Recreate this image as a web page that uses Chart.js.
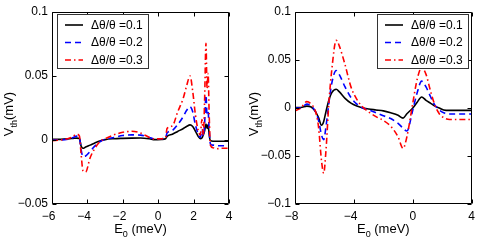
<!DOCTYPE html>
<html>
<head>
<meta charset="utf-8">
<script src="https://cdn.jsdelivr.net/npm/chart.js@4.4.1/dist/chart.umd.min.js"></script>
<style>
  html, body { margin: 0; padding: 0; background: #fff; }
  #wrap { position: relative; width: 480px; height: 245px; }
  .panel { position: absolute; top: 0; width: 240px; height: 245px; }
</style>
</head>
<body>
<div id="wrap">
  <div class="panel" style="left:0"><canvas id="c1" width="240" height="245"></canvas></div>
  <div class="panel" style="left:240px"><canvas id="c2" width="240" height="245"></canvas></div>
</div>
<script>
// ---------- data ----------
const seriesLabels = ['\u0394\u03b8/\u03b8 =0.1', '\u0394\u03b8/\u03b8 =0.2', '\u0394\u03b8/\u03b8 =0.3'];

// left panel
const leftE = [-6, -5.5, -5, -4.8, -4.6, -4.45, -4.35, -4.25, -4.1, -3.85, -3.6, -3.3, -3.0, -2.5, -2.0, -1.5, -1.0, -0.5, -0.2, 0.2, 0.42, 0.5, 0.8, 1.1, 1.4, 1.6, 1.8, 1.95, 2.1, 2.25, 2.38, 2.47, 2.55, 2.62, 2.7, 2.76, 2.82, 2.88, 2.95, 3.1, 3.3, 3.6, 4.0];
const leftV1 = [0.0005, 0.0005, 0.001, 0.0013, 0.0015, 0.001, -0.005, -0.0065, -0.0055, -0.004, -0.0025, -0.0008, 0.0003, 0.001, 0.0013, 0.0015, 0.0016, 0.001, 0.0003, 0.0005, 0.001, 0.0028, 0.0045, 0.0067, 0.0088, 0.0105, 0.0118, 0.0105, 0.007, 0.003, 0.001, 0.0015, 0.004, 0.007, 0.0125, 0.009, 0.012, 0.004, -0.0005, -0.001, -0.001, -0.001, -0.001];
const leftV2 = [0.0, 0.0, 0.001, 0.002, 0.003, 0.002, -0.008, -0.013, -0.0125, -0.009, -0.005, -0.0015, 0.0005, 0.002, 0.0035, 0.004, 0.0038, 0.002, 0.0008, 0.001, 0.0015, 0.0055, 0.0075, 0.012, 0.018, 0.023, 0.026, 0.022, 0.012, 0.005, 0.002, 0.008, 0.003, 0.012, 0.035, 0.02, 0.022, 0.008, -0.003, -0.004, -0.0045, -0.0045, -0.0045];
const leftV3 = [-0.0005, 0.0, 0.0015, 0.003, 0.0045, 0.003, -0.012, -0.024, -0.025, -0.014, -0.007, -0.0015, 0.001, 0.004, 0.006, 0.0068, 0.0055, 0.002, 0.0008, 0.001, 0.002, 0.009, 0.011, 0.022, 0.032, 0.042, 0.05, 0.038, 0.02, 0.008, 0.004, 0.016, 0.004, 0.03, 0.0755, 0.04, 0.052, 0.02, -0.004, -0.006, -0.0068, -0.0065, -0.0065];
const leftXTicks = [-6, -4, -2, 0, 2, 4];
const leftYTicks = [-0.05, 0, 0.05, 0.1];

// right panel
const rightE = [-8, -7.6, -7.2, -6.9, -6.6, -6.4, -6.2, -6.05, -5.9, -5.7, -5.5, -5.2, -5.0, -4.6, -4.2, -3.8, -3.4, -3.0, -2.5, -2.0, -1.5, -1.0, -0.66, -0.4, 0, 0.3, 0.6, 0.9, 1.2, 1.5, 1.8, 2.1, 2.5, 3.0, 4.0];
const rightV1 = [0.0005, 0.0005, 0.002, 0.001, -0.004, -0.01, -0.018, -0.014, -0.004, 0.008, 0.016, 0.0195, 0.017, 0.01, 0.005, 0.002, 0.0, -0.001, -0.002, -0.003, -0.005, -0.0075, -0.0105, -0.006, 0.0, 0.006, 0.0115, 0.008, 0.005, 0.002, 0.0, -0.002, -0.0025, -0.0025, -0.0025];
const rightV2 = [0.0, 0.0, 0.004, 0.002, -0.004, -0.013, -0.028, -0.033, -0.02, 0.005, 0.026, 0.039, 0.035, 0.022, 0.011, 0.004, 0.0, -0.002, -0.005, -0.008, -0.011, -0.016, -0.021, -0.024, -0.002, 0.016, 0.028, 0.022, 0.012, 0.003, -0.002, -0.005, -0.0063, -0.0063, -0.0063];
const rightV3 = [-0.003, 0.0, 0.0066, 0.004, -0.004, -0.02, -0.055, -0.068, -0.045, 0.005, 0.04, 0.0705, 0.065, 0.045, 0.022, 0.009, 0.001, -0.004, -0.009, -0.013, -0.019, -0.03, -0.042, -0.03, 0.005, 0.03, 0.042, 0.035, 0.018, 0.003, -0.006, -0.01, -0.012, -0.012, -0.012];
const rightXTicks = [-8, -4, 0, 4];
const rightYTicks = [-0.1, -0.05, 0, 0.05, 0.1];

// ---------- helpers ----------
const FONT = "'Liberation Sans', Arial, Helvetica, sans-serif";
Chart.defaults.font.family = FONT;
Chart.defaults.color = '#000';

function fmt(v) {
  const r = Math.round(v * 1000) / 1000;
  if (r === 0) return '0';
  const s = String(Math.abs(r));
  return r < 0 ? '\u2212' + s : s;
}
function fmtX(v) {
  const r = Math.round(v * 1000) / 1000;
  if (r < 0) return '\u2212' + Math.abs(r) + '\u2007';
  return String(r);
}
function pts(xs, ys) { return xs.map((x, i) => ({ x: x, y: ys[i] })); }

const styles = [
  { color: '#000000', dash: [], width: 1.6 },
  { color: '#0000ff', dash: [6, 4], width: 1.6 },
  { color: '#ff0000', dash: [6, 3, 1.5, 3], width: 1.6 }
];

const decor = {
  id: 'decor',
  afterDatasetsDraw(chart, args, o) {
    const { ctx, chartArea: a, scales } = chart;
    const xs = scales.x, ys = scales.y;
    ctx.save();
    // frame
    ctx.strokeStyle = '#000';
    ctx.lineWidth = 1;
    ctx.setLineDash([]);
    const L = Math.round(a.left) + 0.5, R = Math.round(a.right) - 0.5;
    const T = Math.round(a.top) + 0.5, B = Math.round(a.bottom) - 0.5;
    ctx.beginPath();
    ctx.rect(L, T, R - L, B - T);
    // ticks inside
    const tl = 4;
    o.xTicks.forEach(v => {
      const p = Math.round(xs.getPixelForValue(v)) + 0.5;
      ctx.moveTo(p, B); ctx.lineTo(p, B - tl);
      ctx.moveTo(p, T); ctx.lineTo(p, T + tl);
    });
    o.yTicks.forEach(v => {
      const p = Math.round(ys.getPixelForValue(v)) + 0.5;
      ctx.moveTo(L, p); ctx.lineTo(L + tl, p);
      ctx.moveTo(R, p); ctx.lineTo(R - tl, p);
    });
    ctx.stroke();

    // legend box
    const lg = o.legend;
    ctx.fillStyle = '#fff';
    ctx.fillRect(lg.x, lg.y, lg.w, lg.h);
    ctx.strokeStyle = '#333';
    ctx.lineWidth = 1;
    ctx.strokeRect(lg.x + 0.5, lg.y + 0.5, lg.w - 1, lg.h - 1);
    ctx.font = '12px ' + FONT;
    ctx.textBaseline = 'middle';
    ctx.textAlign = 'left';
    seriesLabels.forEach((lab, i) => {
      const yy = lg.y + 11 + i * 17.5;
      const st = styles[i];
      ctx.strokeStyle = st.color;
      ctx.lineWidth = st.width;
      ctx.setLineDash(st.dash);
      ctx.beginPath();
      ctx.moveTo(lg.x + 8, yy);
      ctx.lineTo(lg.x + 26, yy);
      ctx.stroke();
      ctx.setLineDash([]);
      ctx.fillStyle = '#000';
      ctx.fillText(lab, lg.x + 34, yy + 0.5);
    });

    // x title: E_0 (meV)
    ctx.fillStyle = '#000';
    ctx.textBaseline = 'alphabetic';
    const big = '13px ' + FONT, small = '9px ' + FONT;
    ctx.font = big; const wE = ctx.measureText('E').width;
    ctx.font = small; const w0 = ctx.measureText('0').width;
    ctx.font = big; const wR = ctx.measureText(' (meV)').width;
    const tot = wE + w0 + wR;
    let x0 = (a.left + a.right) / 2 - tot / 2;
    const by = o.xTitleY;
    ctx.font = big; ctx.fillText('E', x0, by);
    ctx.font = small; ctx.fillText('0', x0 + wE, by + 4);
    ctx.font = big; ctx.fillText(' (meV)', x0 + wE + w0, by);

    // y title: V_th (mV), rotated
    ctx.save();
    ctx.translate(o.yTitleX, o.yTitleC);
    ctx.rotate(-Math.PI / 2);
    ctx.font = big; const wV = ctx.measureText('V').width;
    ctx.font = small; const wth = ctx.measureText('th').width;
    ctx.font = big; const wm = ctx.measureText('(mV)').width;
    const t2 = wV + wth + wm;
    let s = -t2 / 2;
    ctx.font = big; ctx.fillText('V', s, 0);
    ctx.font = small; ctx.fillText('th', s + wV, 4);
    ctx.font = big; ctx.fillText('(mV)', s + wV + wth, 0);
    ctx.restore();

    ctx.restore();
  }
};

function makeChart(id, E, V1, V2, V3, xr, yr, xTicks, yTicks, pad, deco) {
  const sets = [V1, V2, V3].map((V, i) => ({
    label: seriesLabels[i],
    data: pts(E, V),
    borderColor: styles[i].color,
    borderWidth: styles[i].width,
    borderDash: styles[i].dash,
    pointRadius: 0,
    fill: false,
    cubicInterpolationMode: 'monotone',
    order: 3 - i
  }));
  return new Chart(document.getElementById(id), {
    type: 'line',
    data: { datasets: sets },
    options: {
      responsive: false,
      animation: false,
      devicePixelRatio: 1,
      layout: { padding: pad },
      plugins: { legend: { display: false }, tooltip: { enabled: false }, decor: deco },
      scales: {
        x: {
          type: 'linear', min: xr[0], max: xr[1],
          afterBuildTicks(s) { s.ticks = xTicks.map(v => ({ value: v })); },
          afterFit(s) { s.height = 20; },
          ticks: { font: { size: 12 }, padding: 5, maxRotation: 0, autoSkip: false, callback: fmtX, color: '#000' },
          grid: { display: false, drawTicks: false },
          border: { display: false }
        },
        y: {
          type: 'linear', min: yr[0], max: yr[1],
          afterBuildTicks(s) { s.ticks = yTicks.map(v => ({ value: v })); },
          afterFit(s) { s.width = 40; },
          ticks: { font: { size: 12 }, padding: 4, autoSkip: false, callback: fmt, color: '#000' },
          grid: { display: false, drawTicks: false },
          border: { display: false }
        }
      }
    },
    plugins: [decor]
  });
}

makeChart('c1', leftE, leftV1, leftV2, leftV3, [-6, 4], [-0.05, 0.1], leftXTicks, leftYTicks,
  { left: 12, right: 11, top: 12, bottom: 21 },
  { xTicks: leftXTicks, yTicks: leftYTicks, legend: { x: 57, y: 14, w: 92, h: 55 }, xTitleY: 233, yTitleX: 13, yTitleC: 114 });

makeChart('c2', rightE, rightV1, rightV2, rightV3, [-8, 4], [-0.1, 0.1], rightXTicks, rightYTicks,
  { left: 15, right: 8, top: 12, bottom: 21 },
  { xTicks: rightXTicks, yTicks: rightYTicks, legend: { x: 137, y: 14, w: 92, h: 55 }, xTitleY: 233, yTitleX: 18, yTitleC: 114 });
</script>
</body>
</html>
